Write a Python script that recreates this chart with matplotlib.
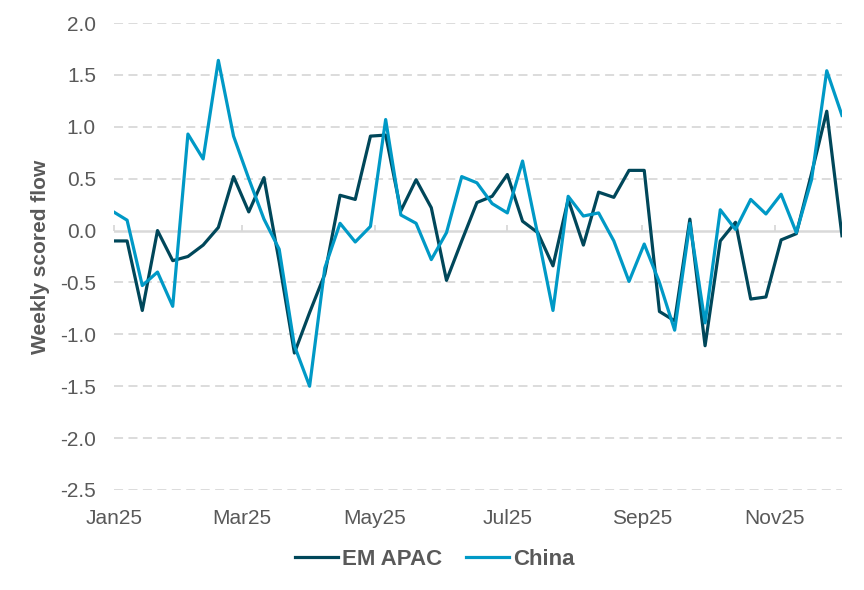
import matplotlib
matplotlib.use("Agg")
import matplotlib.pyplot as plt
import matplotlib.dates as mdates
import numpy as np
import pandas as pd

# Dữ liệu dòng vốn tuần
dates = pd.date_range("2024-12-31", periods=49, freq="7D")

em_apac = [-0.10, -0.10, -0.77, 0.00, -0.29, -0.25, -0.14, 0.03, 0.52, 0.18,
           0.51, -0.30, -1.18, -0.79, -0.42, 0.34, 0.30, 0.91, 0.92, 0.19,
           0.49, 0.22, -0.48, -0.10, 0.27, 0.33, 0.54, 0.09, -0.02, -0.34,
           0.30, -0.14, 0.37, 0.32, 0.58, 0.58, -0.78, -0.87, 0.11, -1.11,
           -0.10, 0.08, -0.66, -0.64, -0.09, -0.03, 0.55, 1.15, -0.05]

china = [0.19, 0.10, -0.53, -0.40, -0.73, 0.93, 0.69, 1.64, 0.91, 0.50,
         0.11, -0.18, -1.11, -1.50, -0.36, 0.07, -0.11, 0.04, 1.07, 0.15,
         0.07, -0.28, -0.02, 0.52, 0.46, 0.26, 0.17, 0.67, -0.04, -0.77,
         0.33, 0.14, 0.17, -0.10, -0.49, -0.13, -0.50, -0.96, 0.07, -0.89,
         0.20, 0.01, 0.30, 0.16, 0.35, -0.02, 0.49, 1.54, 1.11]

y_ticks = np.arange(-2.5, 2.01, 0.5)

plt.rcParams["font.family"] = ["Liberation Sans", "DejaVu Sans"]
text_color = "#595959"
grid_color = "#D9D9D9"

fig = plt.figure(figsize=(8.64, 5.9), dpi=100)
ax = fig.add_axes([0.132, 0.1695, 0.8425, 0.7915])

ax.plot(dates, em_apac, color="#00475A", lw=2.3, label="EM APAC", zorder=3)
ax.plot(dates, china, color="#0099C6", lw=2.3, label="China", zorder=3)

ymin, ymax = -2.5, 2.0
ax.set_ylim(ymin, ymax)
ax.set_xlim(pd.Timestamp("2025-01-01"), dates[-1])
ax.set_yticks(y_ticks)
ax.yaxis.set_major_formatter(matplotlib.ticker.FormatStrFormatter("%.1f"))

# Lưới ngang nét đứt, đường 0 nét liền
for v in y_ticks:
    if abs(v) < 1e-9:
        ax.axhline(0, color=grid_color, lw=1.8, zorder=1)
    else:
        ax.axhline(v, color=grid_color, lw=1.3, ls=(0, (5, 3)), zorder=1)

for s in ax.spines.values():
    s.set_visible(False)

ax.xaxis.set_major_locator(mdates.MonthLocator(bymonth=[1, 3, 5, 7, 9, 11]))
ax.xaxis.set_major_formatter(mdates.DateFormatter("%b%y"))
ax.tick_params(axis="x", length=0, pad=14, labelsize=15, labelcolor=text_color)
ax.tick_params(axis="y", length=0, pad=13, labelsize=15, labelcolor=text_color)

# Vạch chia nhỏ trên trục 0
sec = ax.secondary_xaxis((0 - ymin) / (ymax - ymin))
sec.xaxis.set_major_locator(mdates.MonthLocator(bymonth=[1, 3, 5, 7, 9, 11]))
sec.tick_params(axis="x", direction="out", length=4.5, width=1.3,
                color=grid_color, labelbottom=False, labeltop=False)
for s in sec.spines.values():
    s.set_visible(False)

ax.set_ylabel("Weekly scored flow", fontsize=15, fontweight="bold", color=text_color)
ax.yaxis.set_label_coords(-0.088, 0.5)

leg = fig.legend(loc="center", bbox_to_anchor=(0.503, 0.052), ncol=2, frameon=False,
                 handlelength=1.95, handletextpad=0.15, columnspacing=1.1,
                 prop={"size": 16, "weight": "bold"})
for t in leg.get_texts():
    t.set_color(text_color)

fig.savefig("out.png", dpi=100)
